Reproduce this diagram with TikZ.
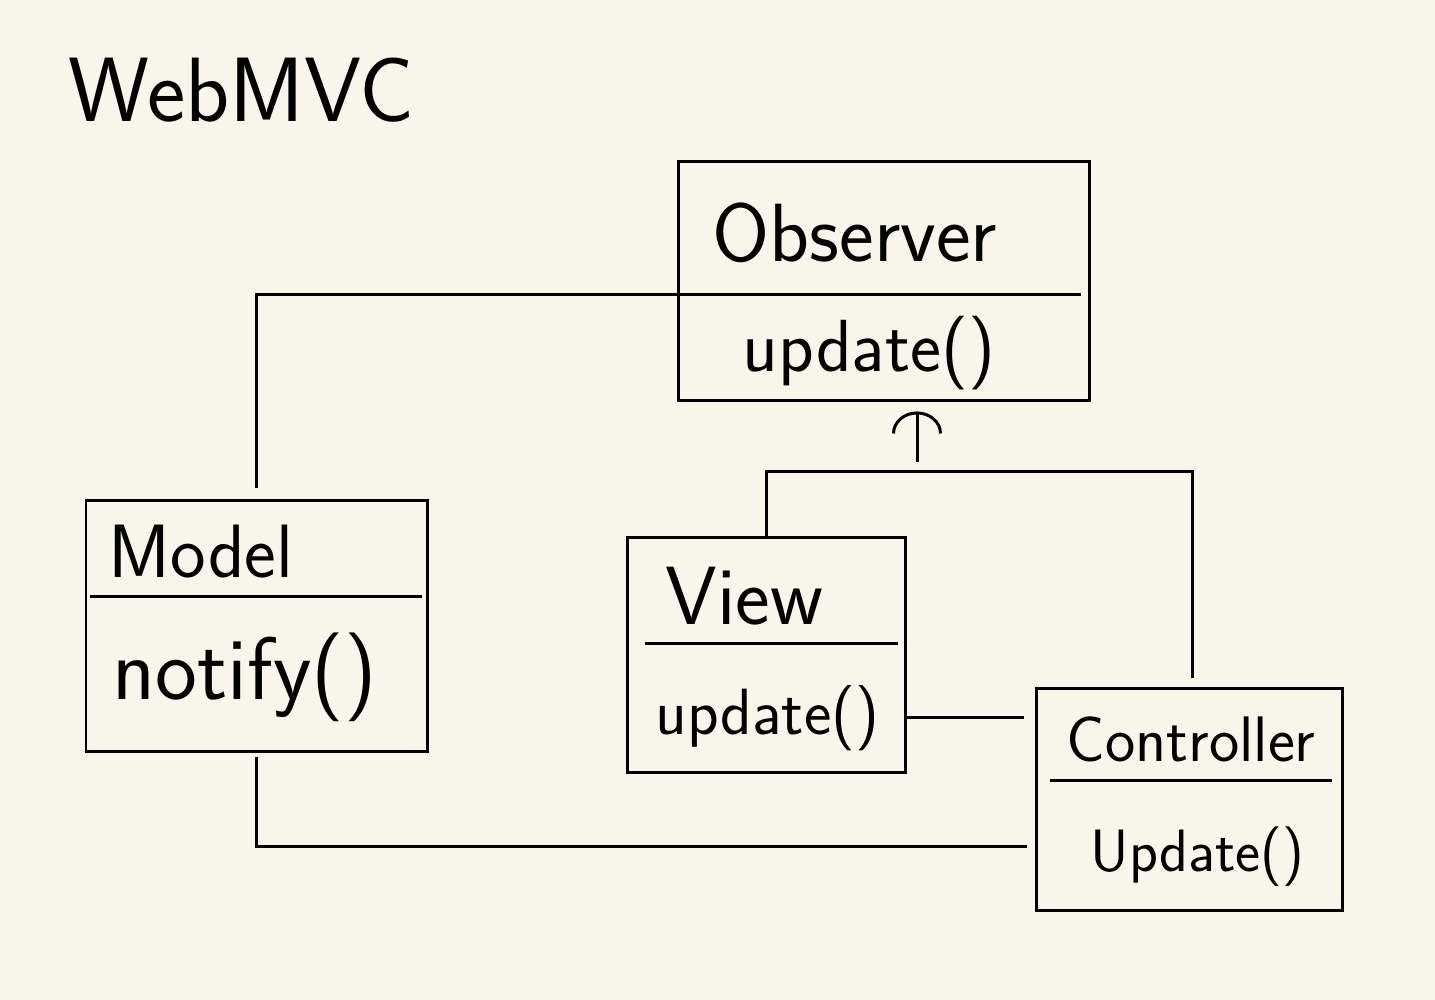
\documentclass[tikz,border=0pt]{standalone}
\usetikzlibrary{arrows.meta,calc,positioning}

\definecolor{paper}{HTML}{F8F5EB}
\tikzset{
  classbox/.style={draw, line width=0.85pt, inner sep=0pt},
  link/.style={line width=0.85pt},
  hand/.style={anchor=base west, inner sep=0pt,
    font=\sffamily\fontsize{#1}{#1}\selectfont},
}

\begin{document}
\begin{tikzpicture}

\fill[paper] (0,0) rectangle (14.35,10);
\useasboundingbox (0,0) rectangle (14.35,10);

\node[hand=26] (title) at (0.68, 8.78) {WebMVC};

% class boxes
\node[classbox, minimum width=4.11cm, minimum height=2.39cm] (observer) at (8.835, 7.185) {};
\node[classbox, minimum width=3.41cm, minimum height=2.51cm] (model) at (2.565, 3.735) {};
\node[classbox, minimum width=2.78cm, minimum height=2.35cm] (view) at (7.66, 3.445) {};
\node[classbox, minimum width=3.06cm, minimum height=2.22cm] (controller) at (11.89, 2.0) {};

\coordinate (obsdiv) at (observer.west |- 0, 7.05);
\draw [link] (obsdiv) to (10.81, 7.05);
\draw [link] (0.90, 4.03) to (4.22, 4.03);
\draw [link] (6.45, 3.56) to (8.98, 3.56);
\draw [link] (10.50, 2.19) to (13.32, 2.19);

\node[hand=23.5] (obsname) at (7.12, 7.38) {Observer};
\node[hand=21] (obsop) at (7.42, 6.28) {update()};
\node[hand=21.5] (modelname) at (1.08, 4.22) {Model};
\node[hand=25.3] (modelop) at (1.12, 3.00) {notify()};
\node[hand=23.5] (viewname) at (6.65, 3.75) {View};
\node[hand=18.6] (viewop) at (6.55, 2.65) {update()};
\node[hand=18.3] (ctrlname) at (10.66, 2.38) {Controller};
\node[hand=17] (ctrlop) at (10.90, 1.28) {Update()};

% connectors
\draw [link] ([yshift=1.1mm]model.north) |- (obsdiv);
\draw [link] ([yshift=-0.4mm]model.south) |- ($(controller.west |- 0, 1.53) + (-0.08, 0)$);
\draw [link] (view.east |- 0, 2.82) to ($(controller.west |- 0, 2.82) + (-0.11, 0)$);

\coordinate (bus) at ($(controller.north |- 0, 5.28) + (0.03, 0)$);
\draw [link] (view.north) |- (bus) to ($(controller.north) + (0.03, 0.09)$);

\coordinate (arrowfoot) at (9.17, 5.38);
\draw [link, -{Arc Barb[width=5mm, length=2.2mm]}] (arrowfoot) to ($(arrowfoot |- observer.south) + (0, -0.09)$);

\end{tikzpicture}
\end{document}
